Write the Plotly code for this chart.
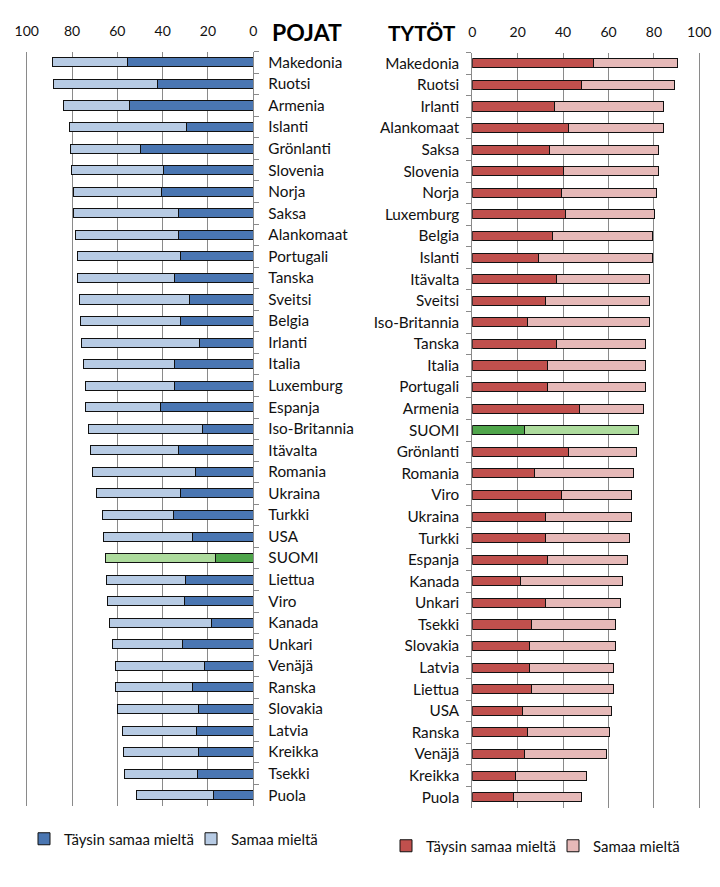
import plotly.graph_objects as go

# ---------------- data ----------------
boys_countries = ["Makedonia", "Ruotsi", "Armenia", "Islanti", "Grönlanti", "Slovenia", "Norja",
                  "Saksa", "Alankomaat", "Portugali", "Tanska", "Sveitsi", "Belgia", "Irlanti",
                  "Italia", "Luxemburg", "Espanja", "Iso-Britannia", "Itävalta", "Romania",
                  "Ukraina", "Turkki", "USA", "SUOMI", "Liettua", "Viro", "Kanada", "Unkari",
                  "Venäjä", "Ranska", "Slovakia", "Latvia", "Kreikka", "Tsekki", "Puola"]
boys_taysin = [55.4, 42.4, 54.7, 29.6, 49.9, 39.7, 40.6, 33.1, 33.1, 32.2, 34.9, 28.2, 32.2, 23.8,
               34.9, 34.9, 41.0, 22.5, 33.1, 25.6, 32.2, 35.3, 26.9, 16.8, 30.0, 30.4, 18.5, 31.3,
               21.6, 26.9, 24.3, 25.2, 24.3, 24.7, 17.7]
boys_samaa = [33.3, 45.9, 29.1, 51.6, 30.9, 40.6, 38.8, 46.3, 45.4, 45.5, 42.8, 48.6, 44.1, 52.1,
              40.1, 39.2, 33.1, 50.3, 38.8, 45.4, 37.1, 31.3, 39.3, 48.5, 34.9, 34.0, 45.0, 30.9,
              39.3, 34.0, 35.7, 32.6, 33.1, 32.2, 33.9]

girls_countries = ["Makedonia", "Ruotsi", "Irlanti", "Alankomaat", "Saksa", "Slovenia", "Norja",
                   "Luxemburg", "Belgia", "Islanti", "Itävalta", "Sveitsi", "Iso-Britannia",
                   "Tanska", "Italia", "Portugali", "Armenia", "SUOMI", "Grönlanti", "Romania",
                   "Viro", "Ukraina", "Turkki", "Espanja", "Kanada", "Unkari", "Tsekki",
                   "Slovakia", "Latvia", "Liettua", "USA", "Ranska", "Venäjä", "Kreikka", "Puola"]
girls_taysin = [53.3, 48.0, 36.1, 42.3, 33.9, 40.1, 39.2, 41.0, 35.2, 29.1, 37.0, 32.2, 24.2,
                37.0, 33.0, 33.0, 47.1, 22.9, 42.3, 27.3, 39.2, 32.2, 32.2, 33.0, 21.1, 32.2,
                26.0, 25.1, 25.1, 26.0, 22.0, 24.2, 22.9, 18.9, 18.1]
girls_samaa = [37.0, 41.0, 48.0, 41.8, 48.0, 41.8, 41.9, 39.2, 44.1, 50.2, 41.0, 45.8, 53.8,
               39.2, 43.2, 43.2, 28.2, 50.2, 29.9, 43.6, 30.8, 37.8, 37.0, 35.3, 45.0, 33.0,
               37.0, 37.9, 37.0, 36.1, 39.2, 36.2, 36.1, 31.3, 29.9]

x_ticks = [0, 20, 40, 60, 80, 100]
highlight = "SUOMI"

# ---------------- styles ----------------
BLUE_D, BLUE_L = "#4a76b2", "#b7cbe4"
RED_D, RED_L = "#c0504d", "#e6b9b8"
GRN_D, GRN_L = "#4fa54b", "#addb9d"
FONT = "Lato"
EDGE = "#111111"
GRID = "#8a8a8a"


def colors(countries, normal, special):
    return [special if c == highlight else normal for c in countries]


fig = go.Figure()

fig.add_trace(go.Bar(y=boys_countries, x=boys_taysin, orientation="h", name="Täysin samaa mieltä",
                     marker=dict(color=colors(boys_countries, BLUE_D, GRN_D), line=dict(color=EDGE, width=1)),
                     xaxis="x", yaxis="y", legend="legend"))
fig.add_trace(go.Bar(y=boys_countries, x=boys_samaa, orientation="h", name="Samaa mieltä",
                     marker=dict(color=colors(boys_countries, BLUE_L, GRN_L), line=dict(color=EDGE, width=1)),
                     xaxis="x", yaxis="y", legend="legend"))
fig.add_trace(go.Bar(y=girls_countries, x=girls_taysin, orientation="h", name="Täysin samaa mieltä",
                     marker=dict(color=colors(girls_countries, RED_D, GRN_D), line=dict(color=EDGE, width=1)),
                     xaxis="x2", yaxis="y2", legend="legend2"))
fig.add_trace(go.Bar(y=girls_countries, x=girls_samaa, orientation="h", name="Samaa mieltä",
                     marker=dict(color=colors(girls_countries, RED_L, GRN_L), line=dict(color=EDGE, width=1)),
                     xaxis="x2", yaxis="y2", legend="legend2"))

W, H = 720, 887
xcommon = dict(tickvals=x_ticks, side="top", showgrid=True, gridcolor=GRID, gridwidth=1,
               zeroline=False, showline=False, ticks="outside", ticklen=9, tickcolor="rgba(0,0,0,0)",
               tickfont=dict(family=FONT, size=14, color="#111"), fixedrange=True, automargin=False)
ycommon = dict(autorange="reversed", type="category", showline=True, mirror=True, linecolor=GRID,
               linewidth=1, ticks="outside", tickson="boundaries", ticklen=5, tickcolor=GRID,
               tickfont=dict(family=FONT, size=15.3, color="#111"),
               showgrid=False, automargin=False, fixedrange=True)
legcommon = dict(orientation="h", xanchor="left", yanchor="middle",
                 font=dict(family=FONT, size=15, color="#111"), traceorder="normal",
                 itemwidth=30, entrywidth=122, entrywidthmode="pixels", bgcolor="rgba(0,0,0,0)")

fig.update_layout(
    width=W, height=H,
    margin=dict(l=0, r=0, t=0, b=0, autoexpand=False),
    paper_bgcolor="white", plot_bgcolor="white",
    barmode="stack", bargap=0.58,
    xaxis=dict(xcommon, range=[100, 0], domain=[26.7 / W, 253.3 / W], anchor="y"),
    yaxis=dict(ycommon, domain=[1 - 806 / H, 1 - 51.6 / H], anchor="x", side="right",
               ticklabelstandoff=11),
    xaxis2=dict(xcommon, range=[0, 100], domain=[472.3 / W, 699.3 / W], anchor="y2"),
    yaxis2=dict(ycommon, domain=[1 - 808 / H, 1 - 52.5 / H], anchor="x2", side="left",
                ticklabelstandoff=9),
    legend=dict(legcommon, x=24 / W, y=1 - 839 / H),
    legend2=dict(legcommon, x=386 / W, y=1 - 846 / H),
    annotations=[
        dict(text="<b>POJAT</b>", x=270 / W, y=1 - 32 / H, xref="paper", yref="paper",
             xanchor="left", yanchor="middle", showarrow=False,
             font=dict(family=FONT, size=23, color="#000")),
        dict(text="<b>TYTÖT</b>", x=458 / W, y=1 - 32 / H, xref="paper", yref="paper",
             xanchor="right", yanchor="middle", showarrow=False,
             font=dict(family=FONT, size=21, color="#000")),
    ],
    showlegend=True,
)

fig.write_html("out.html")
